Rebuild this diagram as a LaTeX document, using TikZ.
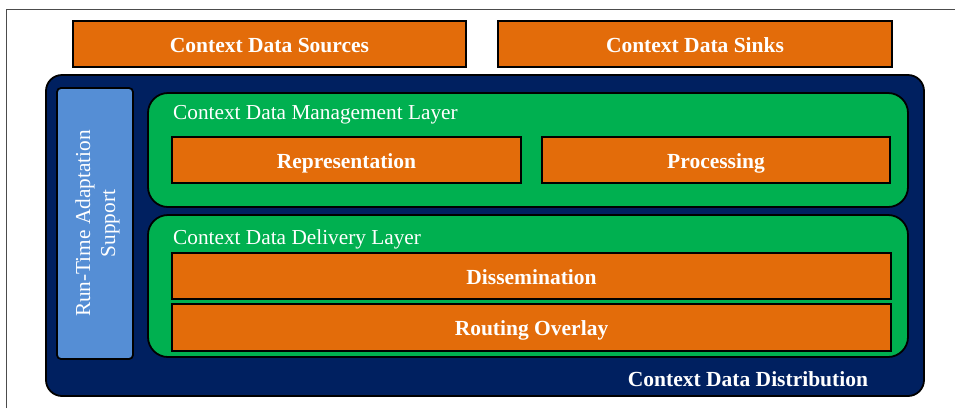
\documentclass[tikz,border=0pt]{standalone}
\usepackage{fontspec}
\setmainfont{Liberation Serif}
\usetikzlibrary{positioning}
\definecolor{boxorange}{HTML}{E36C0A}
\definecolor{distblue}{HTML}{002060}
\definecolor{layergreen}{HTML}{00B050}
\definecolor{rtablue}{HTML}{558ED5}
\tikzset{
  part/.style={
    draw=black,
    line width=1.8pt,
    rectangle,
    inner sep=0pt,
    fill=boxorange,
    text=white,
    text height=16pt,
    text depth=0pt,
    font=\fontsize{21.5}{25}\selectfont\bfseries
  },
  layer/.style={
    draw=black,
    line width=1.8pt,
    rectangle,
    rounded corners=20pt,
    inner sep=0pt,
    fill=layergreen
  },
  caption/.style={
    text=white,
    inner sep=0pt,
    font=\fontsize{21.3}{25}\selectfont
  }
}

\begin{document}
\begin{tikzpicture}[x=1pt, y=-1pt]
    \useasboundingbox (0,0) rectangle (955,408);
    \draw[gray!60!black, line width=0.9pt] (6,408) -- (6,9) -- (955,9);

    \node[part, minimum width=393pt, minimum height=46pt] (sources) at (269.5,44) {Context Data Sources};
    \node[part, minimum width=394pt, minimum height=46pt] (sinks) at (695,44) {Context Data Sinks};

    \node[draw=black, line width=1.8pt, rounded corners=16pt, fill=distblue, inner sep=0pt,
          minimum width=878pt, minimum height=321pt] (dist) at (485,235.5) {};
    \node[caption, font=\fontsize{21.5}{25}\selectfont\bfseries] (distlabel) at (748,379) {Context Data Distribution};

    \node[draw=black, line width=1.8pt, rounded corners=4pt, fill=rtablue, inner sep=0pt,
          minimum width=76pt, minimum height=271pt] (rta) at (95,223.5) {};
    \node[caption, rotate=90, align=center] (rtalabel) at (97.5,223.5) {Run-Time Adaptation\\Support};

    \node[layer, minimum width=760pt, minimum height=114pt] (mgmt) at (528,150) {};
    \node[caption, anchor=west] (mgmtlabel) at (173,115) {Context Data Management Layer};
    \node[part, minimum width=349pt, minimum height=46pt] (repr) at (346.5,160) {Representation};
    \node[part, minimum width=348pt, minimum height=46pt] (proc) at (716,160) {Processing};

    \node[layer, minimum width=760pt, minimum height=142pt] (deliv) at (528,286) {};
    \node[caption, anchor=west] (delivlabel) at (173,239) {Context Data Delivery Layer};
    \node[part, minimum width=719pt, minimum height=46pt] (diss) at (531.5,276) {Dissemination};
    \node[part, minimum width=719pt, minimum height=47pt] (route) at (531.5,327.5) {Routing Overlay};
\end{tikzpicture}
\end{document}
